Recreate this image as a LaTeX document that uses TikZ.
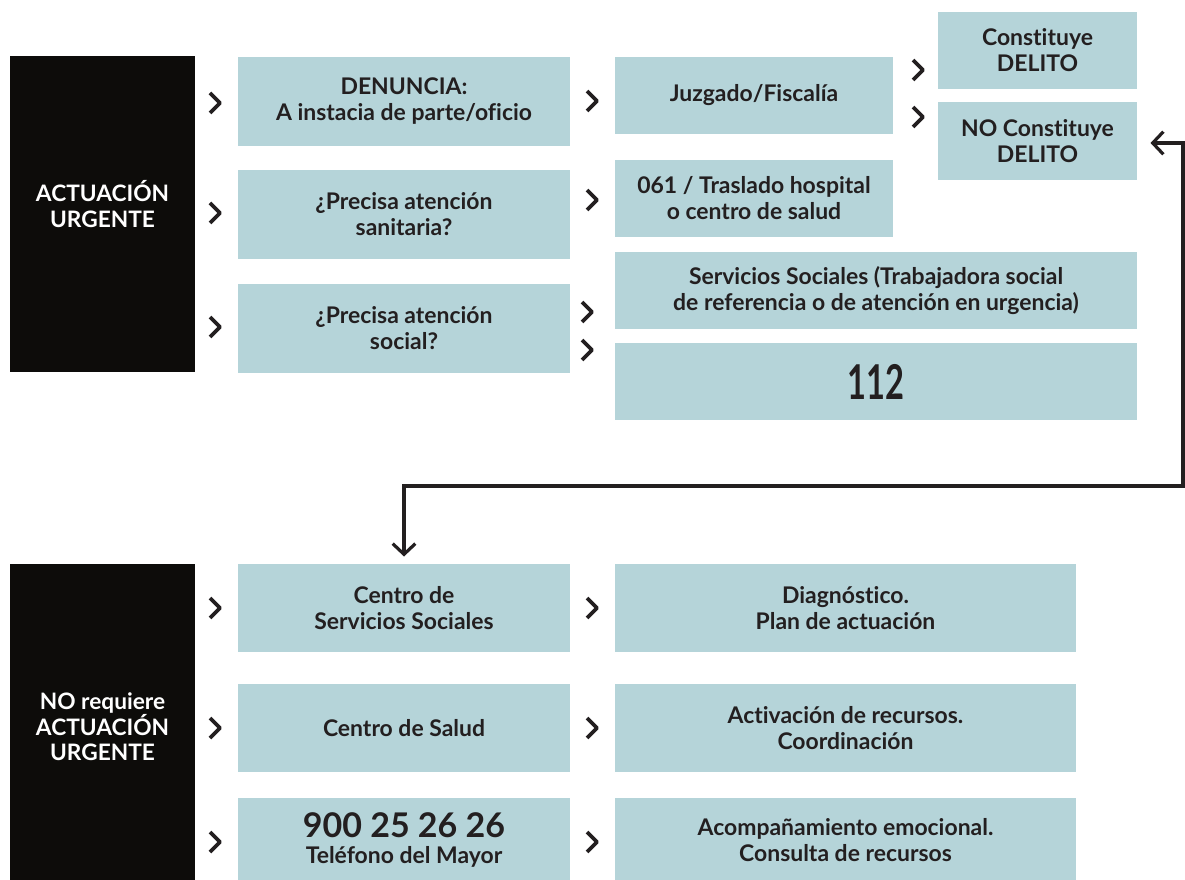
\documentclass[tikz,border=0pt]{standalone}
\usepackage{fontspec}
\setmainfont{Lato}[Ligatures=NoCommon]
\usetikzlibrary{calc,arrows.meta}

\definecolor{boxblue}{RGB}{181,212,217}
\definecolor{boxblack}{RGB}{13,12,10}
\definecolor{ink}{RGB}{35,31,32}

\tikzset{every picture/.style={line width=0.75pt}}
\tikzset{
  box/.style={fill=boxblue, inner sep=0pt, align=center, text=ink,
    font=\fontsize{17.2}{19.5}\selectfont\bfseries},
  blackbox/.style={fill=boxblack, inner sep=0pt},
  blacktext/.style={align=center, text=white, inner sep=0pt,
    font=\fontsize{17}{19}\selectfont\bfseries},
  chev/.pic={\draw[ink, line width=2.7pt, line join=round] (-5,-10) -- (5,0) -- (-5,10);},
  flow/.style={ink, line width=2.4pt,
    {Straight Barb[length=8pt,width=17pt,line width=2.4pt]}-{Straight Barb[length=8pt,width=17pt,line width=2.4pt]}}
}

\begin{document}
\begin{tikzpicture}[x=0.75pt,y=0.75pt,yscale=-1,xscale=1]
\useasboundingbox (0,0) rectangle (1185,880);

% urgent block
\node [blackbox, minimum width=138.75pt, minimum height=237pt] (urg) at (102.5,214) {};
\node [blacktext] (urgtxt) at (102.5,204) {ACTUACIÓN\\URGENTE};
\node [box, minimum width=249pt, minimum height=66.75pt] (den) at (404,101.5) {DENUNCIA:\\A instacia de parte/oficio};
\node [box, minimum width=249pt, minimum height=66.75pt] (san) at (404,214.5) {¿Precisa atención\\sanitaria?};
\node [box, minimum width=249pt, minimum height=66.75pt] (soc) at (404,328.5) {¿Precisa atención\\social?};
\node [box, minimum width=208.5pt, minimum height=57.75pt] (juz) at (754,95.5) {Juzgado/Fiscalía};
\node [box, minimum width=208.5pt, minimum height=57.75pt] (tras) at (754,198.5) {061 / Traslado hospital\\o centro de salud};
\node [box, minimum width=149.25pt, minimum height=57.75pt] (del) at (1037.5,50.5) {Constituye\\DELITO};
\node [box, minimum width=149.25pt, minimum height=58.5pt] (nodel) at (1037.5,141) {NO Constituye\\DELITO};
\node [box, minimum width=391.5pt, minimum height=57.75pt] (ssoc) at (876,290.5) {Servicios Sociales (Trabajadora social\\de referencia o de atención en urgencia)};
\node [box, minimum width=391.5pt, minimum height=57.75pt] (n112) at (876,381.5) {\scalebox{0.68}[1]{\fontsize{36}{36}\selectfont 112}};

% non urgent block
\node [blackbox, minimum width=138.75pt, minimum height=237pt] (nourg) at (102.5,722) {};
\node [blacktext] (nourgtxt) at (102.5,727) {NO requiere\\ACTUACIÓN\\URGENTE};
\node [box, minimum width=249pt, minimum height=66pt] (css) at (404,608) {Centro de\\Servicios Sociales};
\node [box, minimum width=249pt, minimum height=66pt] (salud) at (404,728) {Centro de Salud};
\node [box, minimum width=249pt, minimum height=63pt] (tel) at (404,840) {{\fontsize{25.5}{27}\selectfont 900 25 26 26}\\Teléfono del Mayor};
\node [box, minimum width=345.75pt, minimum height=66pt] (diag) at (845.5,608) {Diagnóstico.\\Plan de actuación};
\node [box, minimum width=345.75pt, minimum height=66pt] (act) at (845.5,728) {Activación de recursos.\\Coordinación};
\node [box, minimum width=345.75pt, minimum height=63pt] (acom) at (845.5,840) {Acompañamiento emocional.\\Consulta de recursos};

% chevrons
\foreach \cy in {103,213,327,608,728,842} \pic at (215,\cy) {chev};
\foreach \cy in {101,200,608,728,842} \pic at (592,\cy) {chev};
\foreach \cy in {312,350} \pic at (587,\cy) {chev};
\foreach \cy in {70,117} \pic at (918,\cy) {chev};

% return arrow
\coordinate (turnR) at (1183,486);
\draw [flow] ($(nodel.east)+(13,2)$) -| (turnR) -| ($(css.north)+(0,-7)$);

\end{tikzpicture}
\end{document}
